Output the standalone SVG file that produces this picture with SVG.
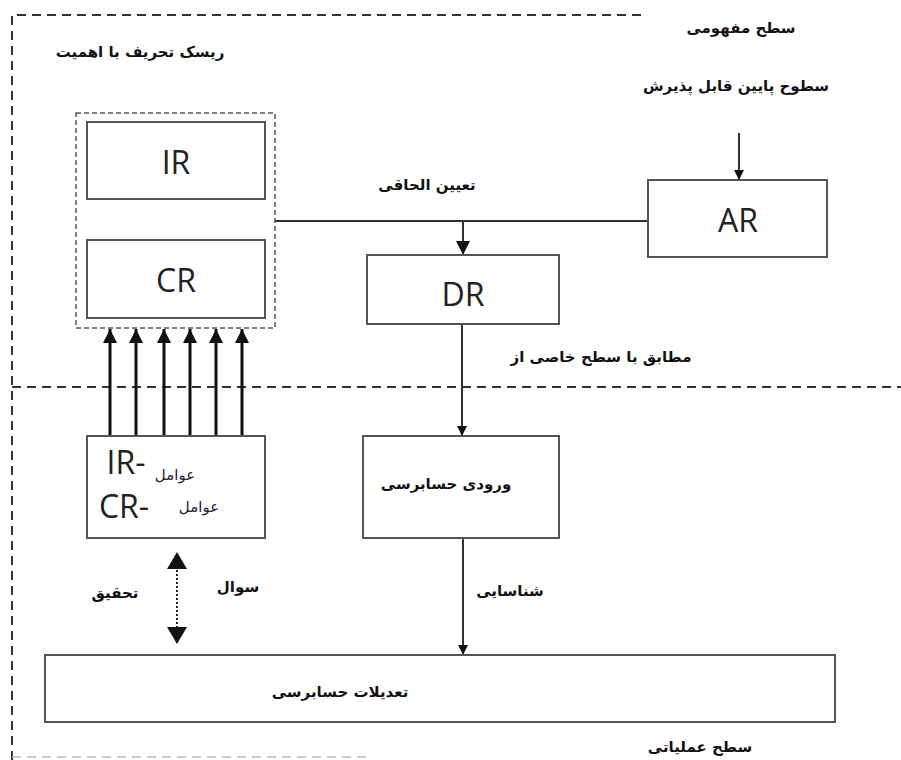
<svg xmlns="http://www.w3.org/2000/svg" width="901" height="760" viewBox="0 0 901 760">
<style>
.box{fill:#fff;stroke:#555;stroke-width:2}
.ln{stroke:#333;stroke-width:2;fill:none}
.thick{stroke:#111;stroke-width:3;fill:none}
.dash{stroke:#333;stroke-width:2;stroke-dasharray:9,6;fill:none}
.lat{font-family:"Open Sans","Liberation Sans",sans-serif;font-size:32px;fill:#222;text-anchor:middle}
.fa{font-family:"DejaVu Sans","Noto Sans",sans-serif;font-size:15px;font-weight:bold;fill:#111;text-anchor:middle}
</style>
<defs>
<marker id="ah" viewBox="0 0 10 10" refX="10" refY="5" markerWidth="10" markerHeight="10" markerUnits="userSpaceOnUse" orient="auto"><path d="M0,0 L10,5 L0,10 z" fill="#111"/></marker>
<marker id="ahb" viewBox="0 0 10 10" refX="10" refY="5" markerWidth="14" markerHeight="14" markerUnits="userSpaceOnUse" orient="auto"><path d="M0,0 L10,5 L0,10 z" fill="#111"/></marker>
</defs>
<g id="frame">
<path class="dash" d="M12,760 L12,15 L643,15"/>
<path class="dash" d="M12,387 L901,387"/>
<path d="M12,757 L367,757" stroke="#bbb" stroke-width="1.5" stroke-dasharray="9,6" fill="none"/>
</g>
<g id="labels">
<text class="fa" x="140" y="57">ریسک تحریف با اهمیت</text>
<text class="fa" x="741" y="33">سطح مفهومی</text>
<text class="fa" x="736" y="91">سطوح پایین قابل پذیرش</text>
<text class="fa" x="427" y="190">تعیین الحاقی</text>
<text class="fa" x="601" y="362">مطابق با سطح خاصی از</text>
<text class="fa" x="510" y="596">شناسایی</text>
<text class="fa" x="238" y="592">سوال</text>
<text class="fa" x="115" y="598">تحقیق</text>
<text class="fa" x="700" y="752">سطح عملیاتی</text>
</g>
<g id="connectors">
<path class="ln" d="M275,221 L648,221"/>
<path class="ln" d="M463,221 L463,255" marker-end="url(#ahb)"/>
<path class="ln" d="M739,133 L739,180" marker-end="url(#ah)"/>
<path class="ln" d="M462,324 L462,436" marker-end="url(#ah)"/>
<path class="ln" d="M463,538 L463,655" marker-end="url(#ah)"/>
<path class="thick" d="M110,436 L110,329" marker-end="url(#ahb)"/>
<path class="thick" d="M136,436 L136,329" marker-end="url(#ahb)"/>
<path class="thick" d="M164,436 L164,329" marker-end="url(#ahb)"/>
<path class="thick" d="M190,436 L190,329" marker-end="url(#ahb)"/>
<path class="thick" d="M216,436 L216,329" marker-end="url(#ahb)"/>
<path class="thick" d="M242,436 L242,329" marker-end="url(#ahb)"/>
<path d="M177,562 L177,633" stroke="#222" stroke-width="2" stroke-dasharray="2,2" fill="none"/>
<path d="M167,569 L177,552 L187,569 z" fill="#111"/>
<path d="M167,627 L177,644 L187,627 z" fill="#111"/>
</g>
<g id="risk-group">
<rect x="76" y="113" width="199" height="215" fill="none" stroke="#555" stroke-width="1.5" stroke-dasharray="5,3"/>
</g>
<g id="IR">
<rect class="box" x="87" y="122" width="178" height="77"/>
<text class="lat" x="176" y="174">IR</text>
</g>
<g id="CR">
<rect class="box" x="87" y="240" width="178" height="78"/>
<text class="lat" x="176" y="292">CR</text>
</g>
<g id="AR">
<rect class="box" x="648" y="180" width="179" height="77"/>
<text class="lat" x="738" y="232" font-size="36">AR</text>
</g>
<g id="DR">
<rect class="box" x="367" y="255" width="192" height="69"/>
<text class="lat" x="463" y="306">DR</text>
</g>
<g id="factors">
<rect class="box" x="87" y="436" width="178" height="102"/>
<text class="lat" x="126" y="474" font-size="30">IR-</text>
<text class="lat" x="124" y="518" font-size="30">CR-</text>
<text class="fa" x="175" y="480" style="font-weight:normal;fill:#223">عوامل</text>
<text class="fa" x="199" y="512" style="font-weight:normal;fill:#223">عوامل</text>
</g>
<g id="audit-input">
<rect class="box" x="363" y="436" width="196" height="102"/>
<text class="fa" x="446" y="489">ورودی حسابرسی</text>
</g>
<g id="audit-adjust">
<rect class="box" x="45" y="655" width="790" height="67"/>
<text class="fa" x="340" y="697">تعدیلات حسابرسی</text>
</g>
</svg>
